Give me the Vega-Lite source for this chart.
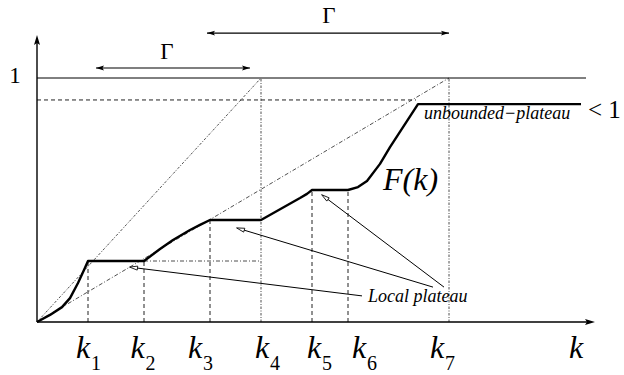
{
  "$schema": "https://vega.github.io/schema/vega-lite/v6.json",
  "width": 624,
  "height": 375,
  "padding": 0,
  "autosize": {"type": "fit", "contains": "padding"},
  "config": {"view": {"stroke": null}, "text": {"font": "Liberation Serif, Times New Roman, DejaVu Serif, serif"}},
  "datasets": {
    "curve": [
      {"x": 0, "y": 0}, {"x": 0.13, "y": 0.029}, {"x": 0.25, "y": 0.061}, {"x": 0.33, "y": 0.098},
      {"x": 0.41, "y": 0.16}, {"x": 0.47, "y": 0.213}, {"x": 0.51, "y": 0.25}, {"x": 1.07, "y": 0.25},
      {"x": 1.23, "y": 0.299}, {"x": 1.36, "y": 0.336}, {"x": 1.53, "y": 0.377}, {"x": 1.63, "y": 0.398},
      {"x": 1.73, "y": 0.418}, {"x": 2.24, "y": 0.418}, {"x": 2.63, "y": 0.508}, {"x": 2.7, "y": 0.525},
      {"x": 2.75, "y": 0.541}, {"x": 3.11, "y": 0.541}, {"x": 3.21, "y": 0.553}, {"x": 3.3, "y": 0.578},
      {"x": 3.43, "y": 0.648}, {"x": 3.53, "y": 0.717}, {"x": 3.81, "y": 0.893}, {"x": 5.44, "y": 0.893}
    ],
    "frame": [
      {"x": 0, "y": 0, "x2": 5.5, "y2": 0},
      {"x": 0, "y": 0, "x2": 0, "y2": 1.16}
    ],
    "topline": [
      {"x": 0, "y": 1, "x2": 5.49, "y2": 1}
    ],
    "gamma": [
      {"x": 0.59, "y": 1.041, "x2": 2.13, "y2": 1.041},
      {"x": 1.7, "y": 1.184, "x2": 4.12, "y2": 1.184}
    ],
    "dashed": [
      {"x": 0, "y": 0.91, "x2": 3.79, "y2": 0.91},
      {"x": 0.51, "y": 0, "x2": 0.51, "y2": 0.25},
      {"x": 1.07, "y": 0, "x2": 1.07, "y2": 0.25},
      {"x": 1.73, "y": 0, "x2": 1.73, "y2": 0.418},
      {"x": 2.75, "y": 0, "x2": 2.75, "y2": 0.541},
      {"x": 3.11, "y": 0, "x2": 3.11, "y2": 0.541}
    ],
    "dotted": [
      {"x": 2.24, "y": 0, "x2": 2.24, "y2": 1},
      {"x": 4.12, "y": 0, "x2": 4.12, "y2": 1},
      {"x": 0, "y": 0, "x2": 2.24, "y2": 1}
    ],
    "dashdot": [
      {"x": 0, "y": 0, "x2": 4.12, "y2": 1},
      {"x": 1.07, "y": 0.25, "x2": 2.24, "y2": 0.25}
    ],
    "annot": [
      {"x": 3.25, "y": 0.107, "x2": 0.965, "y2": 0.223},
      {"x": 3.96, "y": 0.143, "x2": 2.034, "y2": 0.381},
      {"x": 4.07, "y": 0.143, "x2": 2.878, "y2": 0.512}
    ],
    "heads": [
      {"x": 0.965, "y": 0.223, "ang": 277.4},
      {"x": 2.034, "y": 0.381, "ang": 286.7},
      {"x": 2.878, "y": 0.512, "ang": 307}
    ],
    "rightTips": [
      {"x": 2.09, "y": 1.041}, {"x": 4.08, "y": 1.184}
    ],
    "leftTips": [
      {"x": 0.63, "y": 1.041}, {"x": 1.74, "y": 1.184}
    ],
    "axisX": [{"x": 5.53, "y": 0}],
    "axisY": [{"x": 0, "y": 1.156}],
    "upright": [
      {"x": -0.22, "y": 0.98, "t": "1"},
      {"x": 1.3, "y": 1.078, "t": "Γ"},
      {"x": 2.92, "y": 1.225, "t": "Γ"}
    ],
    "ltone": [{"x": 5.51, "y": 0.836, "t": "< 1"}],
    "fk": [{"x": 3.46, "y": 0.541, "t": "F(k)"}],
    "small": [
      {"x": 3.87, "y": 0.832, "t": "unbounded−plateau"},
      {"x": 3.31, "y": 0.082, "t": "Local plateau"}
    ],
    "klabels": [
      {"x": 0.46, "y": -0.1475, "t": "k", "d": "1"},
      {"x": 1.005, "y": -0.1475, "t": "k", "d": "2"},
      {"x": 1.58, "y": -0.1475, "t": "k", "d": "3"},
      {"x": 2.25, "y": -0.1475, "t": "k", "d": "4"},
      {"x": 2.77, "y": -0.1475, "t": "k", "d": "5"},
      {"x": 3.22, "y": -0.1475, "t": "k", "d": "6"},
      {"x": 4.0, "y": -0.1475, "t": "k", "d": "7"},
      {"x": 5.39, "y": -0.1475, "t": "k", "d": ""}
    ]
  },
  "encoding": {
    "x": {"field": "x", "type": "quantitative", "scale": {"domain": [-0.37, 5.87], "nice": false, "zero": false}, "axis": null},
    "y": {"field": "y", "type": "quantitative", "scale": {"domain": [-0.2172, 1.3197], "nice": false, "zero": false}, "axis": null}
  },
  "layer": [
    {"data": {"name": "dashed"}, "mark": {"type": "rule", "color": "#222", "strokeWidth": 1, "strokeDash": [4, 3]},
     "encoding": {"x2": {"field": "x2"}, "y2": {"field": "y2"}}},
    {"data": {"name": "dotted"}, "mark": {"type": "rule", "color": "#222", "strokeWidth": 0.8, "strokeDash": [2.5, 1.5, 1, 1.5]},
     "encoding": {"x2": {"field": "x2"}, "y2": {"field": "y2"}}},
    {"data": {"name": "dashdot"}, "mark": {"type": "rule", "color": "#222", "strokeWidth": 0.8, "strokeDash": [4, 2, 1, 2]},
     "encoding": {"x2": {"field": "x2"}, "y2": {"field": "y2"}}},
    {"data": {"name": "annot"}, "mark": {"type": "rule", "color": "#000", "strokeWidth": 1},
     "encoding": {"x2": {"field": "x2"}, "y2": {"field": "y2"}}},
    {"data": {"name": "frame"}, "mark": {"type": "rule", "color": "#000", "strokeWidth": 1.4},
     "encoding": {"x2": {"field": "x2"}, "y2": {"field": "y2"}}},
    {"data": {"name": "topline"}, "mark": {"type": "rule", "color": "#000", "strokeWidth": 1},
     "encoding": {"x2": {"field": "x2"}, "y2": {"field": "y2"}}},
    {"data": {"name": "gamma"}, "mark": {"type": "rule", "color": "#000", "strokeWidth": 1.2},
     "encoding": {"x2": {"field": "x2"}, "y2": {"field": "y2"}}},
    {"data": {"name": "curve"}, "mark": {"type": "line", "color": "#000", "strokeWidth": 2.4, "interpolate": "linear", "strokeJoin": "round"}},
    {"data": {"name": "heads"}, "mark": {"type": "point", "shape": "M0,-1L0.5,1L-0.5,1Z", "size": 64, "filled": true, "fill": "#fff", "stroke": "#000", "strokeWidth": 0.8, "opacity": 1},
     "encoding": {"angle": {"field": "ang", "type": "quantitative", "scale": null}}},
    {"data": {"name": "rightTips"}, "mark": {"type": "point", "shape": "M-1,-0.6L1,0L-1,0.6L-0.6,0Z", "size": 64, "filled": true, "color": "#000", "opacity": 1}},
    {"data": {"name": "leftTips"}, "mark": {"type": "point", "shape": "M1,-0.6L-1,0L1,0.6L0.6,0Z", "size": 64, "filled": true, "color": "#000", "opacity": 1}},
    {"data": {"name": "axisX"}, "mark": {"type": "point", "shape": "M-1,-0.6L1,0L-1,0.6L-0.6,0Z", "size": 100, "filled": true, "color": "#000", "opacity": 1}},
    {"data": {"name": "axisY"}, "mark": {"type": "point", "shape": "M-0.6,1L0,-1L0.6,1L0,0.6Z", "size": 100, "filled": true, "color": "#000", "opacity": 1}},
    {"data": {"name": "upright"}, "mark": {"type": "text", "fontSize": 23, "align": "center", "baseline": "alphabetic", "color": "#000"},
     "encoding": {"text": {"field": "t"}}},
    {"data": {"name": "ltone"}, "mark": {"type": "text", "fontSize": 25, "align": "left", "baseline": "alphabetic", "color": "#000"},
     "encoding": {"text": {"field": "t"}}},
    {"data": {"name": "fk"}, "mark": {"type": "text", "fontStyle": "italic", "fontSize": 32, "align": "left", "baseline": "alphabetic", "color": "#000"},
     "encoding": {"text": {"field": "t"}}},
    {"data": {"name": "small"}, "mark": {"type": "text", "fontStyle": "italic", "fontSize": 18, "align": "left", "baseline": "alphabetic", "color": "#000"},
     "encoding": {"text": {"field": "t"}}},
    {"data": {"name": "klabels"}, "mark": {"type": "text", "fontStyle": "italic", "fontSize": 32, "align": "center", "baseline": "alphabetic", "color": "#000"},
     "encoding": {"text": {"field": "t"}}},
    {"data": {"name": "klabels"}, "mark": {"type": "text", "fontSize": 20, "align": "left", "baseline": "alphabetic", "dx": 8, "dy": 12, "color": "#000"},
     "encoding": {"text": {"field": "d"}}}
  ]
}
